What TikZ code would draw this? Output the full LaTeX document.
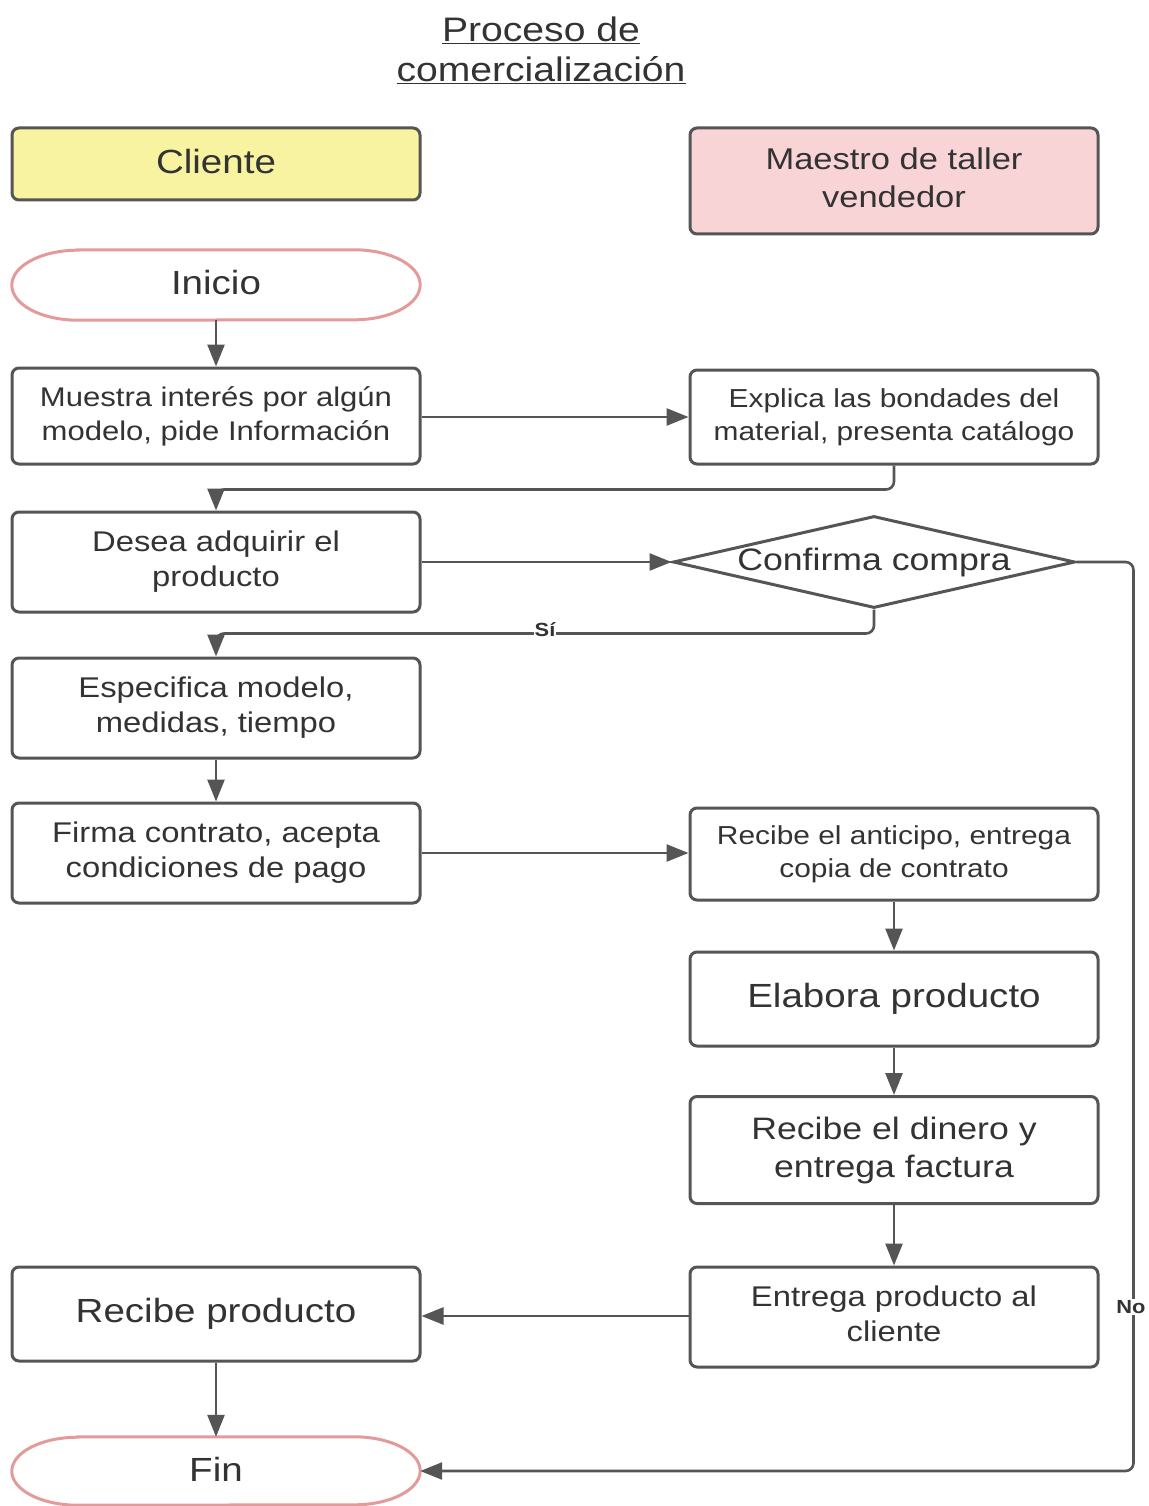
\documentclass[tikz,border=0pt]{standalone}
\usepackage{fontspec}
\setmainfont{Liberation Sans}[FakeStretch=1.15]
\usetikzlibrary{arrows.meta,shapes.geometric}
\definecolor{linec}{HTML}{555555}
\definecolor{textc}{HTML}{333333}
\definecolor{yel}{HTML}{F8F3A0}
\definecolor{pnk}{HTML}{F8D4D7}
\definecolor{pnkline}{HTML}{E59A9A}
\tikzset{
  box/.style={draw=linec, line width=3pt, rounded corners=7pt, fill=white, text=textc,
    align=center, inner sep=0pt, minimum width=408pt},
  term/.style={text=textc, align=center, inner sep=0pt, minimum width=408pt},
  termline/.style={draw=pnkline, line width=3pt},
  conn/.style={draw=linec, line width=2.6pt, rounded corners=8pt,
    -{Triangle[length=22pt,width=17pt]}},
  lbl/.style={fill=white, text=textc, inner sep=1pt, font=\fontsize{19}{22}\selectfont\bfseries},
  fA/.style={font=\fontsize{26}{33}\selectfont},
  fB/.style={font=\fontsize{28.5}{35}\selectfont},
  fC/.style={font=\fontsize{31}{38}\selectfont},
  fD/.style={font=\fontsize{33.5}{40}\selectfont},
}
\newcommand{\termoutline}[2]{%
  \path[termline] ([xshift=66pt]#1.north west) -- ([xshift=-66pt]#1.north east)
    arc[start angle=90, end angle=-90, x radius=66pt, y radius=#2]
    -- ([xshift=66pt]#1.south west)
    arc[start angle=270, end angle=90, x radius=66pt, y radius=#2] -- cycle;}
\begin{document}
\begin{tikzpicture}[x=1pt,y=-1pt]
\useasboundingbox (0,0) rectangle (1148,1506);
\fill[white] (0,0) rectangle (1148,1506);

% title
\node[text=textc, align=center, font=\fontsize{34}{40}\selectfont] (title) at (541,50)
  {\underline{Proceso de}\\\underline{comercialización}};

% lanes
\node[box, fill=yel, minimum height=72pt, fD] (cliente) at (216,164) {\raisebox{5pt}{Cliente}};
\node[box, fill=pnk, minimum height=106pt, font=\fontsize{30}{38}\selectfont] (maestro) at (894,181) {Maestro de taller\\vendedor\rule[-6pt]{0pt}{1pt}};

% terminals
\node[term, minimum height=70pt, fD] (inicio) at (216,285) {\raisebox{6pt}{Inicio}};
\termoutline{inicio}{35pt}
\node[term, minimum height=68pt, fD] (fin) at (216,1471) {\raisebox{4pt}{Fin}};
\termoutline{fin}{34pt}

% nodes
\node[box, minimum height=96pt, font=\fontsize{27}{34}\selectfont] (muestra) at (216,416) {Muestra interés por algún\\modelo, pide Información};
\node[box, minimum height=94pt, fA] (explica) at (894,417) {Explica las bondades del\\material, presenta catálogo};
\node[box, minimum height=100pt, fB] (desea) at (216,562) {Desea adquirir el\\producto};
\node[draw=linec, line width=3pt, shape=diamond, aspect=4.37, inner sep=0pt,
  minimum width=402pt, minimum height=92pt, fill=white, text=textc,
  font=\fontsize{31}{36}\selectfont] (diam) at (874,562) {\raisebox{4pt}{Confirma compra}};
\node[box, minimum height=100pt, fB] (especifica) at (216,708) {Especifica modelo,\\medidas, tiempo};
\node[box, minimum height=100pt, fB] (firma) at (216,853) {Firma contrato, acepta\\condiciones de pago};
\node[box, minimum height=92pt, fA] (anticipo) at (894,854) {Recibe el anticipo, entrega\\copia de contrato};
\node[box, minimum height=94pt, fD] (elabora) at (894,999) {Elabora producto};
\node[box, minimum height=107pt, fC] (dinero) at (894,1150) {Recibe el dinero y\\entrega factura};
\node[box, minimum height=100pt, fB] (entrega) at (894,1317) {Entrega producto al\\cliente\rule[-6pt]{0pt}{1pt}};
\node[box, minimum height=94pt, fD] (recprod) at (216,1314) {Recibe producto};

% connectors
\draw[conn] (inicio.south) -- (muestra.north);
\draw[conn] (muestra.east |- 0,417) -- (explica.west |- 0,417);
\draw[conn] (explica.south) -- ++(0,24) -| (desea.north);
\draw[conn] (desea.east) -- (diam.west);
\draw[conn] (diam.south) -- ++(0,24) -| (especifica.north);
\draw[conn] (especifica.south) -- (firma.north);
\draw[conn] (firma.east) -- (anticipo.west |- firma.east);
\draw[conn] (anticipo.south) -- (elabora.north);
\draw[conn] (elabora.south) -- (dinero.north);
\draw[conn] (dinero.south) -- (entrega.north);
\draw[conn] (entrega.west |- 0,1316) -- (recprod.east |- 0,1316);
\draw[conn] (recprod.south) -- (fin.north);
\draw[conn] (diam.east) -- ++(57,0) |- (fin.east);

% labels
\node[lbl] (si) at (545,630) {Sí};
\node[lbl] (no) at (1131,1307) {No};
\end{tikzpicture}
\end{document}
